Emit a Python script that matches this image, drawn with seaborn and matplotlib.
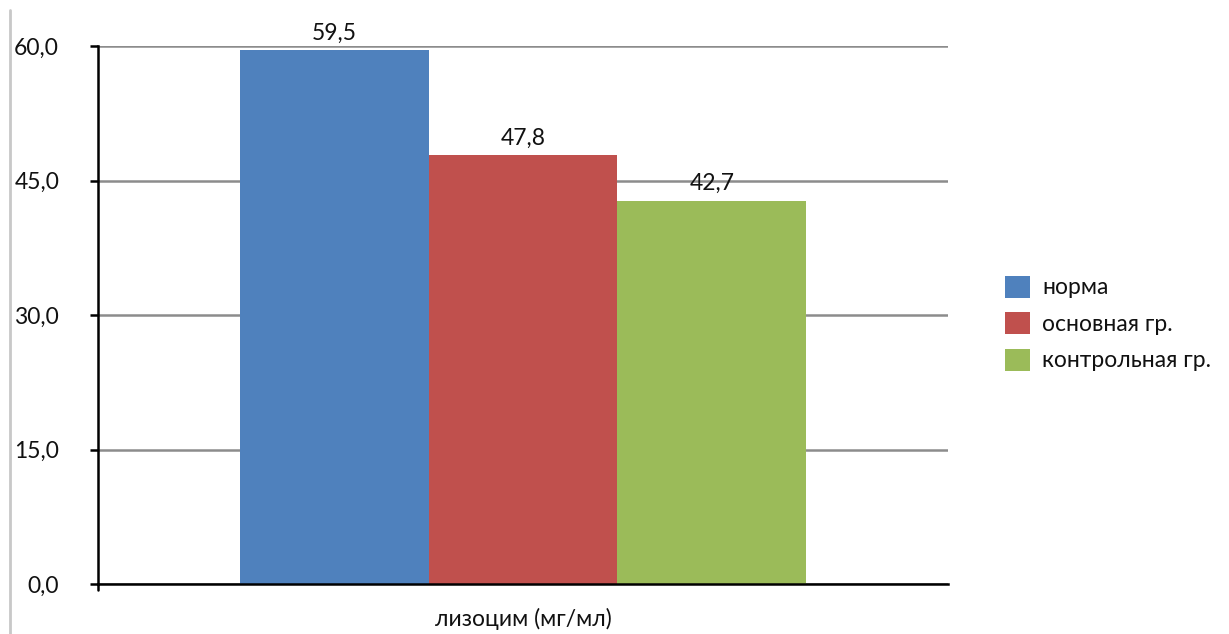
import matplotlib
matplotlib.use("Agg")
import matplotlib.pyplot as plt
from matplotlib.lines import Line2D
import seaborn as sns
import pandas as pd

# Data
categories = ["лизоцим (мг/мл)"]
groups = ["норма", "основная гр.", "контрольная гр."]
values = [59.5, 47.8, 42.7]
colors = ["#4F81BD", "#C0504D", "#9BBB59"]
y_ticks = [0, 15, 30, 45, 60]

df = pd.DataFrame({
    "показатель": categories * len(groups),
    "группа": groups,
    "значение": values,
})

sns.set_theme(style="white")
plt.rcParams["font.family"] = ["Lato", "DejaVu Sans"]
FS = 16.5

fig = plt.figure(figsize=(12.29, 6.34), dpi=100)
ax = fig.add_axes([98 / 1229, 1 - 584 / 634, 850 / 1229, 538 / 634])

sns.barplot(data=df, x="показатель", y="значение", hue="группа",
            hue_order=groups, palette=colors, width=0.667, gap=0,
            saturation=1, errorbar=None, ax=ax, legend=True)

for patch in ax.patches:
    patch.set_edgecolor("none")

# Value labels with decimal comma
for cont, v in zip(ax.containers, values):
    ax.bar_label(cont, labels=[f"{v:.1f}".replace(".", ",")],
                 padding=5, fontsize=FS, color="#111111")

ax.set_xlim(-0.5, 0.5)
ax.set_ylim(0, 60)
ax.set_yticks(y_ticks)
ax.set_yticklabels([f"{t:.1f}".replace(".", ",") for t in y_ticks])
ax.tick_params(axis="y", which="both", left=True, length=6, width=1.8,
               color="black", pad=22, labelsize=FS, labelcolor="#111111")
for lbl in ax.get_yticklabels():
    lbl.set_horizontalalignment("right")
ax.tick_params(axis="x", bottom=False, pad=11, labelsize=FS, labelcolor="#111111")
ax.set_xlabel("")
ax.set_ylabel("")

ax.yaxis.grid(True, color="#8c8c8c", linewidth=1.8)
ax.set_axisbelow(True)

for side in ["top", "right"]:
    ax.spines[side].set_visible(False)
for side in ["left", "bottom"]:
    ax.spines[side].set_color("black")
    ax.spines[side].set_linewidth(1.8)

# small tick below the axis corner
ax.plot([-0.5, -0.5], [0, -0.7], color="black", lw=1.8, clip_on=False)

handles, labels = ax.get_legend_handles_labels()
ax.legend(handles, labels, loc="upper left", bbox_to_anchor=(984 / 1229, 1 - 255 / 634),
          bbox_transform=fig.transFigure, frameon=False, fontsize=FS,
          handlelength=1.1, handleheight=1.1, handletextpad=0.55, labelspacing=0.6,
          labelcolor="#111111")

# chart frame edge on the left
fig.add_artist(Line2D([10 / 1229, 10 / 1229], [0, 1 - 10 / 634],
                      transform=fig.transFigure, color="#c8c8c8", lw=2))

fig.savefig("out.png", dpi=100, facecolor="white")
